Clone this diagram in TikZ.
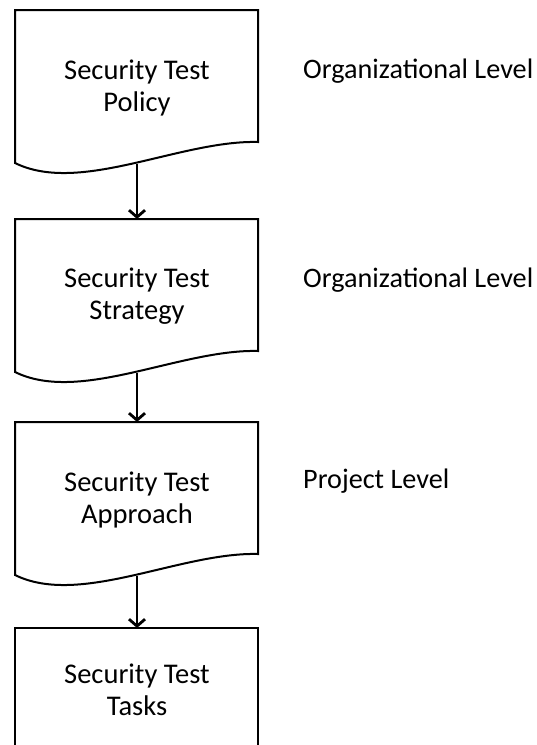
\documentclass[tikz,border=0pt]{standalone}
\usepackage{fontspec}
\setmainfont{Carlito}
\usetikzlibrary{arrows.meta}
\begin{document}
\begin{tikzpicture}[x=1pt,y=-1pt,
  outline/.style={line width=2pt, line join=miter},
  label/.style={font=\fontsize{28.5}{32}\selectfont, align=center, inner sep=0pt},
  side/.style={font=\fontsize{28.2}{32}\selectfont, anchor=base west, inner sep=0pt},
  arr/.style={line width=2.8pt, -{Straight Barb[length=7pt,width=16pt]}}]
\useasboundingbox[fill=white] (0,0) rectangle (536,745);
% document shapes
\foreach \dy in {0,209,412}{
  \begin{scope}[shift={(0,\dy)}]
    \draw[outline] (15,163) -- (15,10) -- (258,10) -- (258,142)
      .. controls (180,140) and (80,195) .. (15,163) -- cycle;
  \end{scope}
}
\draw[outline] (15,750) -- (15,628) -- (258,628) -- (258,750);
% texts
\node[label] (t1) at (137,88) {Security Test\\Policy};
\node[label] (t2) at (137,296) {Security Test\\Strategy};
\node[label] (t3) at (137,500) {Security Test\\Approach};
\node[label] (t4) at (137,690) {Security Test\\Tasks};
\node[side] (l1) at (303,78) {Organizational Level};
\node[side] (l2) at (303,287) {Organizational Level};
\node[side] (l3) at (303,488) {Project Level};
% connectors
\coordinate (b1) at (137,164);
\coordinate (n2) at (137,219);
\coordinate (b2) at (137,373);
\coordinate (n3) at (137,422);
\coordinate (b3) at (137,576);
\coordinate (n4) at (137,628);
\draw[arr] (b1) -- (n2);
\draw[arr] (b2) -- (n3);
\draw[arr] (b3) -- (n4);
\end{tikzpicture}
\end{document}
